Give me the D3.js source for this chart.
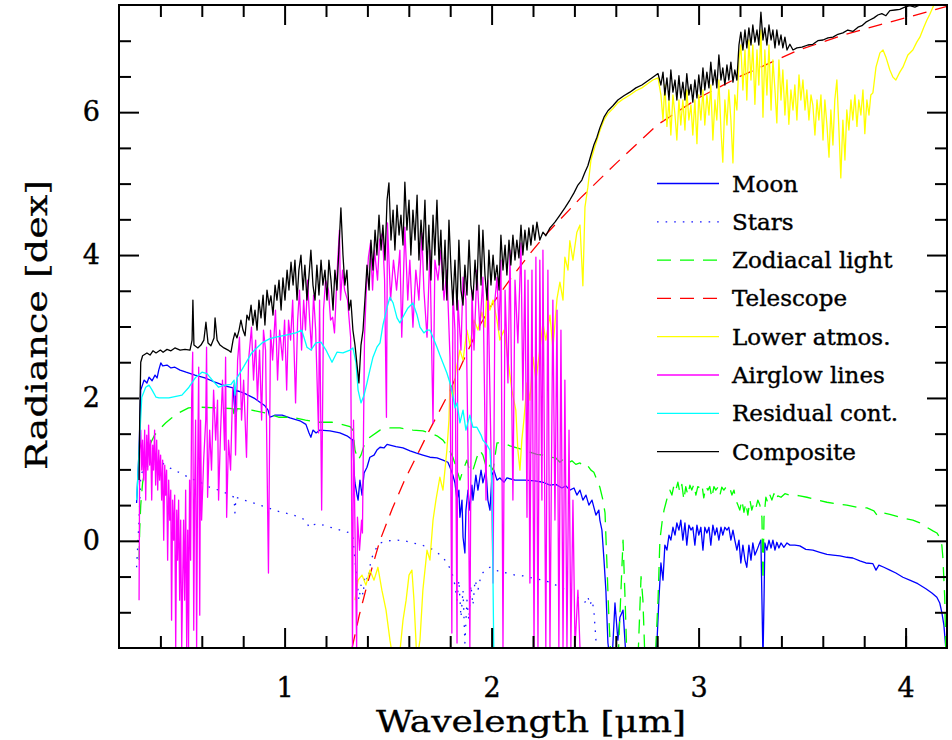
<!DOCTYPE html>
<html>
<head>
<meta charset='utf-8'>
<style>
  body { margin: 0; background: #fff; }
  .frame { fill: none; stroke: #000; stroke-width: 2px; }
  .axis path.domain { display: none; }
  .axis line { stroke: #000; stroke-width: 2px; }
  .axis text { font-family: 'DejaVu Serif'; font-size: 27px; fill: #000; stroke: #000; stroke-width: 0.4px; }
  .title { font-family: 'DejaVu Serif'; font-size: 29px; fill: #000; stroke: #000; stroke-width: 0.3px; }
  .legend text { font-family: 'DejaVu Serif'; font-size: 23px; fill: #000; stroke: #000; stroke-width: 0.4px; }
  .spec { fill: none; stroke-width: 1.3px; stroke-linejoin: round; }
</style>
</head>
<body>
<div id='chart'></div>
<script src="https://d3js.org/d3.v7.min.js"></script>
<script>
// wavelength [um], radiance [dex]
var moon = [[0.285,0.53],[0.297,1.27],[0.305,2.11],[0.321,2.25],[0.335,2.21],[0.345,2.29],[0.36,2.24],[0.374,2.32],[0.384,2.28],[0.392,2.39],[0.402,2.49],[0.411,2.45],[0.432,2.46],[0.451,2.42],[0.47,2.43],[0.495,2.39],[0.524,2.36],[0.567,2.32],[0.615,2.28],[0.664,2.22],[0.712,2.17],[0.751,2.14],[0.76,1.80],[0.765,2.11],[0.809,2.06],[0.857,1.99],[0.905,1.89],[0.92,1.83],[0.929,1.73],[0.954,1.76],[0.988,1.76],[1.026,1.72],[1.074,1.68],[1.103,1.63],[1.118,1.51],[1.127,1.45],[1.137,1.55],[1.152,1.51],[1.171,1.55],[1.219,1.54],[1.267,1.51],[1.301,1.47],[1.33,1.41],[1.335,0.99],[1.34,0.81],[1.35,0.64],[1.355,0.57],[1.364,0.85],[1.374,0.64],[1.384,0.95],[1.398,1.03],[1.412,1.17],[1.432,1.20],[1.446,1.27],[1.461,1.31],[1.48,1.30],[1.495,1.35],[1.509,1.34],[1.538,1.32],[1.572,1.30],[1.606,1.26],[1.634,1.23],[1.668,1.20],[1.702,1.17],[1.736,1.16],[1.765,1.13],[1.789,1.10],[1.799,1.03],[1.813,0.92],[1.823,0.81],[1.833,0.57],[1.842,0.71],[1.847,0.33],[1.857,0.57],[1.862,0.05],[1.871,-0.17],[1.876,0.43],[1.886,0.71],[1.895,0.43],[1.905,0.78],[1.91,0.57],[1.924,0.92],[1.934,0.71],[1.949,0.99],[1.958,0.81],[1.973,0.99],[1.982,0.57],[1.992,0.43],[2.002,0.92],[2.011,0.99],[2.026,0.85],[2.04,0.88],[2.06,0.82],[2.074,0.88],[2.113,0.85],[2.161,0.85],[2.209,0.84],[2.248,0.82],[2.282,0.78],[2.31,0.79],[2.34,0.74],[2.359,0.77],[2.378,0.71],[2.398,0.74],[2.412,0.64],[2.427,0.71],[2.441,0.57],[2.456,0.64],[2.47,0.50],[2.485,0.57],[2.504,0.36],[2.518,0.43],[2.523,0.29],[2.533,0.15],[2.543,-0.27],[2.552,-0.69],[2.562,-1.43],[2.572,-1.67],[2.582,-1.67],[2.596,-0.87],[2.61,-1.39],[2.62,-1.07],[2.635,-0.97],[2.65,-1.67],[2.795,-1.67],[2.808,-0.83],[2.818,-0.31],[2.828,-0.55],[2.837,-0.06],[2.847,-0.13],[2.857,0.08],[2.866,0.01],[2.876,0.19],[2.886,0.08],[2.895,0.25],[2.905,0.15],[2.914,0.29],[2.924,0.01],[2.934,0.25],[2.943,-0.06],[2.953,0.22],[2.963,0.15],[2.972,0.19],[2.982,-0.06],[2.992,0.22],[3.001,0.08],[3.011,0.19],[3.021,-0.13],[3.03,0.19],[3.04,0.11],[3.05,0.19],[3.059,-0.06],[3.069,0.22],[3.079,0.08],[3.088,0.18],[3.098,0.01],[3.108,0.19],[3.117,0.08],[3.127,0.19],[3.137,0.15],[3.146,0.19],[3.156,0.01],[3.166,0.15],[3.175,0.01],[3.185,-0.13],[3.195,0.01],[3.204,-0.31],[3.214,-0.06],[3.224,-0.27],[3.233,-0.37],[3.243,-0.06],[3.253,-0.27],[3.262,-0.03],[3.272,-0.20],[3.282,-0.13],[3.291,-0.06],[3.301,0.01],[3.306,-0.83],[3.311,-1.67],[3.316,-0.83],[3.32,-0.03],[3.33,-0.13],[3.34,0.01],[3.35,-0.10],[3.359,0.01],[3.369,-0.13],[3.378,-0.02],[3.388,-0.10],[3.398,-0.03],[3.412,-0.09],[3.427,-0.03],[3.441,-0.06],[3.465,-0.06],[3.489,-0.07],[3.518,-0.12],[3.552,-0.13],[3.586,-0.16],[3.62,-0.19],[3.649,-0.20],[3.683,-0.21],[3.716,-0.23],[3.745,-0.24],[3.779,-0.28],[3.808,-0.31],[3.842,-0.32],[3.857,-0.41],[3.871,-0.34],[3.895,-0.37],[3.924,-0.41],[3.953,-0.45],[3.987,-0.51],[4.02,-0.55],[4.059,-0.60],[4.098,-0.67],[4.127,-0.73],[4.151,-0.79],[4.165,-0.87],[4.175,-1.00],[4.185,-1.18],[4.194,-1.50]];

var stars = [[0.285,-0.37],[0.297,0.29],[0.305,0.92],[0.324,1.03],[0.35,1.06],[0.374,1.06],[0.403,1.10],[0.446,1.02],[0.495,0.95],[0.543,0.88],[0.599,0.81],[0.638,0.75],[0.681,0.71],[0.725,0.66],[0.756,0.61],[0.76,0.39],[0.765,0.61],[0.804,0.57],[0.841,0.54],[0.879,0.50],[0.922,0.46],[0.96,0.42],[1.004,0.39],[1.053,0.35],[1.103,0.29],[1.118,0.19],[1.132,0.22],[1.164,0.24],[1.198,0.21],[1.232,0.18],[1.27,0.15],[1.316,0.11],[1.33,0.05],[1.34,-0.27],[1.35,-0.55],[1.359,-0.83],[1.369,-0.62],[1.379,-0.76],[1.388,-0.48],[1.403,-0.55],[1.417,-0.27],[1.437,-0.13],[1.461,-0.03],[1.50,0.00],[1.543,0.01],[1.581,0.00],[1.62,-0.03],[1.663,-0.06],[1.702,-0.10],[1.736,-0.16],[1.765,-0.23],[1.789,-0.33],[1.808,-0.44],[1.823,-0.62],[1.833,-0.83],[1.842,-0.55],[1.852,-1.07],[1.862,-0.69],[1.871,-1.43],[1.881,-0.83],[1.89,-1.11],[1.9,-0.62],[1.91,-0.90],[1.92,-0.55],[1.934,-0.69],[1.949,-0.48],[1.968,-0.41],[1.992,-0.37],[2.021,-0.41],[2.045,-0.44],[2.074,-0.45],[2.113,-0.48],[2.151,-0.49],[2.195,-0.52],[2.248,-0.55],[2.291,-0.59],[2.33,-0.65],[2.369,-0.70],[2.403,-0.76],[2.432,-0.83],[2.451,-0.86],[2.465,-0.78],[2.475,-0.90],[2.485,-0.83],[2.494,-0.97],[2.504,-1.39],[2.509,-1.67]];

var zodiacal = [[0.297,-0.27],[0.30,0.15],[0.305,0.50],[0.314,0.81],[0.334,1.13],[0.353,1.37],[0.372,1.48],[0.392,1.55],[0.425,1.65],[0.454,1.72],[0.488,1.79],[0.536,1.86],[0.599,1.87],[0.681,1.86],[0.751,1.85],[0.76,1.69],[0.77,1.85],[0.841,1.83],[0.909,1.79],[0.971,1.73],[1.034,1.73],[1.101,1.69],[1.164,1.66],[1.227,1.66],[1.265,1.64],[1.316,1.60],[1.33,1.55],[1.34,1.27],[1.355,1.13],[1.369,1.20],[1.388,1.37],[1.412,1.45],[1.461,1.55],[1.509,1.58],[1.557,1.58],[1.62,1.55],[1.668,1.54],[1.702,1.51],[1.736,1.47],[1.765,1.41],[1.789,1.31],[1.813,1.17],[1.833,0.99],[1.847,0.85],[1.862,0.99],[1.881,1.13],[1.895,0.96],[1.91,0.99],[1.929,1.17],[1.943,1.27],[1.958,1.20],[1.978,0.99],[1.992,1.06],[2.007,0.99],[2.026,1.37],[2.055,1.37],[2.089,1.33],[2.122,1.30],[2.156,1.27],[2.185,1.24],[2.219,1.21],[2.248,1.20],[2.282,1.17],[2.31,1.16],[2.33,1.10],[2.35,1.15],[2.369,1.09],[2.388,1.12],[2.407,1.07],[2.427,1.09],[2.446,1.03],[2.465,1.05],[2.48,0.99],[2.494,0.96],[2.509,0.85],[2.523,0.75],[2.538,0.57],[2.548,0.39],[2.557,-0.31],[2.567,-1.11],[2.577,-1.67],[2.611,-1.67],[2.625,-0.69],[2.635,0.01],[2.645,-0.83],[2.654,-1.67],[2.707,-1.67],[2.722,-0.50],[2.731,-0.83],[2.741,-1.67],[2.79,-1.67],[2.804,-0.83],[2.813,0.01],[2.823,0.25],[2.833,0.43],[2.842,0.53],[2.852,0.64],[2.861,0.71],[2.871,0.64],[2.881,0.78],[2.89,0.71],[2.9,0.82],[2.909,0.68],[2.919,0.79],[2.929,0.57],[2.938,0.76],[2.948,0.64],[2.958,0.78],[2.967,0.71],[2.977,0.79],[2.987,0.64],[2.996,0.76],[3.006,0.74],[3.016,0.79],[3.025,0.60],[3.035,0.76],[3.045,0.71],[3.054,0.76],[3.064,0.60],[3.074,0.76],[3.083,0.71],[3.093,0.75],[3.103,0.64],[3.112,0.75],[3.122,0.71],[3.132,0.75],[3.142,0.71],[3.151,0.74],[3.161,0.64],[3.171,0.71],[3.18,0.57],[3.19,0.50],[3.199,0.43],[3.209,0.57],[3.219,0.40],[3.228,0.53],[3.238,0.36],[3.248,0.57],[3.257,0.43],[3.267,0.53],[3.277,0.46],[3.286,0.57],[3.296,0.50],[3.306,0.33],[3.311,-0.55],[3.316,0.33],[3.325,0.61],[3.335,0.53],[3.345,0.64],[3.354,0.57],[3.364,0.66],[3.374,0.57],[3.383,0.63],[3.398,0.61],[3.417,0.66],[3.441,0.64],[3.465,0.64],[3.489,0.63],[3.523,0.61],[3.562,0.58],[3.62,0.54],[3.683,0.51],[3.716,0.50],[3.765,0.47],[3.813,0.46],[3.847,0.42],[3.862,0.36],[3.876,0.40],[3.924,0.37],[3.972,0.33],[4.035,0.29],[4.069,0.25],[4.103,0.19],[4.132,0.14],[4.151,0.11],[4.165,0.05],[4.175,-0.06],[4.18,-0.23],[4.189,-0.79],[4.194,-1.50]];

var telescope = [[1.326,-1.5],[1.36,-1.05],[1.40,-0.6],[1.46,0.0],[1.52,0.45],[1.58,0.85],[1.64,1.2],[1.70,1.55],[1.79,2.05],[1.86,2.5],[1.94,3.0],[2.0,3.3],[2.1,3.7],[2.18,4.0],[2.26,4.28],[2.43,4.8],[2.6,5.28],[2.8,5.82],[3.0,6.2],[3.2,6.5],[3.475,6.86],[3.7,7.08],[3.87,7.22],[4.0,7.32],[4.1,7.4],[4.2,7.48]];

var lowerAtmos = [[1.34,-0.83],[1.355,-0.55],[1.374,-0.48],[1.393,-0.62],[1.412,-0.41],[1.432,-0.55],[1.451,-0.37],[1.47,-0.69],[1.49,-0.97],[1.509,-1.39],[1.524,-1.67],[1.553,-1.67],[1.572,-1.11],[1.587,-0.83],[1.601,-0.48],[1.615,-0.41],[1.625,-0.83],[1.639,-1.67],[1.654,-1.39],[1.668,-0.69],[1.688,-0.13],[1.702,-0.27],[1.717,0.29],[1.731,0.57],[1.75,0.89],[1.765,0.71],[1.784,1.27],[1.794,1.69],[1.799,2.21],[1.813,1.97],[1.828,2.39],[1.847,2.67],[1.862,2.53],[1.881,2.95],[1.895,2.74],[1.915,3.09],[1.934,2.95],[1.953,3.20],[1.968,2.99],[1.978,3.51],[1.992,3.23],[2.007,3.37],[2.026,3.09],[2.04,2.81],[2.06,2.95],[2.079,2.53],[2.098,2.11],[2.117,1.83],[2.127,1.27],[2.137,0.99],[2.146,1.41],[2.156,1.69],[2.171,2.21],[2.185,1.97],[2.20,2.57],[2.214,2.25],[2.233,2.67],[2.248,3.05],[2.262,2.81],[2.282,3.16],[2.296,2.69],[2.316,3.39],[2.33,3.62],[2.345,3.37],[2.354,3.97],[2.369,3.79],[2.378,4.20],[2.393,3.93],[2.412,4.32],[2.427,4.42],[2.441,3.57],[2.451,4.67],[2.465,4.95],[2.48,5.33],[2.494,5.47],[2.509,5.61],[2.523,5.74],[2.543,5.89],[2.562,5.98],[2.586,6.05],[2.61,6.13],[2.639,6.19],[2.668,6.24],[2.697,6.30],[2.726,6.34],[2.755,6.40],[2.779,6.45],[2.804,6.48],[2.818,6.24],[2.828,5.89],[2.837,6.38],[2.847,5.80],[2.857,6.17],[2.866,5.68],[2.876,6.24],[2.886,5.96],[2.895,5.61],[2.905,6.17],[2.914,5.82],[2.924,6.17],[2.934,5.75],[2.943,6.31],[2.953,5.89],[2.963,6.10],[2.972,5.68],[2.982,6.17],[2.992,5.56],[3.001,6.24],[3.011,5.89],[3.021,6.31],[3.03,5.82],[3.04,6.24],[3.05,5.96],[3.059,6.38],[3.069,5.61],[3.079,6.17],[3.088,5.89],[3.098,6.45],[3.108,5.75],[3.117,5.30],[3.127,6.17],[3.137,5.82],[3.146,6.31],[3.156,5.89],[3.166,5.29],[3.175,6.24],[3.185,6.03],[3.195,6.73],[3.204,6.94],[3.214,6.31],[3.224,6.87],[3.233,6.17],[3.243,7.01],[3.253,6.45],[3.262,6.94],[3.272,6.11],[3.282,6.87],[3.291,6.38],[3.301,7.15],[3.311,5.93],[3.32,6.87],[3.33,6.24],[3.34,6.94],[3.35,6.03],[3.359,6.73],[3.369,6.31],[3.378,5.85],[3.388,6.73],[3.398,6.17],[3.407,6.59],[3.417,5.96],[3.427,6.45],[3.436,5.83],[3.446,6.31],[3.456,6.03],[3.465,6.38],[3.475,5.89],[3.485,6.52],[3.494,6.17],[3.504,6.45],[3.514,6.03],[3.523,6.31],[3.533,5.89],[3.543,6.24],[3.552,6.10],[3.562,5.68],[3.572,6.17],[3.581,5.89],[3.591,6.24],[3.601,5.61],[3.61,6.17],[3.62,5.82],[3.63,5.37],[3.639,6.03],[3.649,5.54],[3.658,6.17],[3.668,6.45],[3.678,5.75],[3.687,5.08],[3.697,5.89],[3.707,5.33],[3.716,6.03],[3.726,5.75],[3.736,6.17],[3.745,5.89],[3.755,6.24],[3.765,5.80],[3.774,6.17],[3.784,5.96],[3.794,6.31],[3.803,5.70],[3.813,6.17],[3.823,5.96],[3.832,6.24],[3.842,6.27],[3.857,6.63],[3.876,6.83],[3.891,6.87],[3.905,6.77],[3.924,6.59],[3.939,6.49],[3.953,6.45],[3.972,6.56],[3.987,6.63],[4.011,6.80],[4.035,6.87],[4.054,6.98],[4.069,7.05],[4.088,7.19],[4.103,7.29],[4.117,7.37],[4.132,7.47],[4.146,7.55]];

var airglow = [[0.297,-0.83],[0.30,1.27],[0.305,1.55],[0.31,0.99],[0.314,1.41],[0.319,0.85],[0.324,1.55],[0.329,0.57],[0.334,1.48],[0.339,0.99],[0.343,1.62],[0.348,1.06],[0.353,1.41],[0.358,0.57],[0.363,1.34],[0.367,0.99],[0.372,1.55],[0.377,0.78],[0.382,1.41],[0.387,0.71],[0.392,1.27],[0.396,0.85],[0.401,1.20],[0.406,0.57],[0.411,1.13],[0.416,0.01],[0.421,1.06],[0.425,0.64],[0.43,0.99],[0.435,-0.27],[0.44,0.85],[0.445,0.29],[0.45,0.71],[0.454,-1.11],[0.459,0.57],[0.464,0.01],[0.469,0.64],[0.474,-1.5],[0.479,0.43],[0.483,-0.27],[0.488,0.57],[0.493,-0.83],[0.498,0.29],[0.503,-1.5],[0.512,0.29],[0.517,-0.83],[0.522,0.71],[0.527,-1.5],[0.532,0.15],[0.536,-1.5],[0.541,0.85],[0.546,-0.27],[0.551,1.97],[0.556,2.64],[0.561,-1.25],[0.565,0.57],[0.57,1.69],[0.575,-1.5],[0.58,0.99],[0.585,2.43],[0.59,-1.04],[0.594,1.69],[0.599,0.29],[0.609,1.13],[0.619,1.69],[0.623,2.71],[0.628,0.61],[0.638,1.55],[0.647,0.99],[0.657,2.11],[0.667,1.41],[0.676,1.97],[0.681,0.57],[0.691,1.55],[0.70,2.25],[0.71,1.27],[0.715,2.57],[0.72,0.33],[0.729,1.41],[0.739,0.99],[0.749,2.11],[0.758,2.21],[0.763,1.20],[0.773,2.53],[0.782,2.85],[0.792,1.69],[0.802,2.25],[0.816,1.17],[0.826,2.53],[0.84,2.99],[0.85,2.25],[0.86,2.81],[0.869,1.97],[0.879,2.67],[0.889,1.69],[0.898,2.95],[0.908,2.67],[0.922,-0.45],[0.932,2.95],[0.942,2.53],[0.956,3.23],[0.966,2.25],[0.976,2.95],[0.99,2.53],[1.0,3.09],[1.01,2.11],[1.019,3.09],[1.029,2.81],[1.039,3.37],[1.053,1.93],[1.063,3.09],[1.072,3.51],[1.082,2.67],[1.092,3.37],[1.101,2.95],[1.111,3.65],[1.121,3.09],[1.13,2.67],[1.14,3.44],[1.15,2.95],[1.164,1.51],[1.169,3.37],[1.179,0.43],[1.188,3.23],[1.198,3.65],[1.212,3.51],[1.222,3.09],[1.232,3.13],[1.241,2.91],[1.256,3.89],[1.265,4.35],[1.27,3.37],[1.28,3.79],[1.29,3.51],[1.304,3.37],[1.319,2.85],[1.328,-1.49],[1.333,1.69],[1.338,0.57],[1.348,-1.49],[1.352,0.33],[1.362,-0.13],[1.372,0.29],[1.376,0.11],[1.386,2.85],[1.396,3.61],[1.405,3.97],[1.415,4.17],[1.425,3.51],[1.434,4.07],[1.449,3.65],[1.459,4.21],[1.473,4.31],[1.483,3.65],[1.492,1.73],[1.497,4.45],[1.512,3.37],[1.526,3.93],[1.541,3.51],[1.557,4.07],[1.566,2.85],[1.581,4.39],[1.595,3.37],[1.605,3.93],[1.62,2.99],[1.634,3.79],[1.649,3.37],[1.663,4.31],[1.673,3.51],[1.688,2.85],[1.702,4.07],[1.717,1.65],[1.726,3.93],[1.741,3.65],[1.755,4.07],[1.77,3.37],[1.784,3.79],[1.799,2.57],[1.808,-1.29],[1.813,3.51],[1.823,2.95],[1.833,-1.43],[1.837,3.37],[1.852,2.67],[1.862,3.69],[1.876,3.37],[1.886,1.27],[1.895,-1.49],[1.905,3.51],[1.915,2.67],[1.929,3.79],[1.943,2.95],[1.958,3.69],[1.973,0.57],[1.982,3.65],[1.997,1.27],[2.007,-0.59],[2.016,3.37],[2.026,3.69],[2.036,2.95],[2.045,3.93],[2.055,-1.49],[2.065,3.51],[2.079,2.21],[2.089,4.07],[2.103,0.57],[2.113,3.65],[2.127,2.77],[2.142,4.17],[2.151,1.97],[2.161,3.79],[2.171,0.33],[2.176,3.65],[2.185,-0.59],[2.195,3.79],[2.205,-1.49],[2.214,3.97],[2.224,-1.49],[2.233,3.93],[2.243,0.57],[2.248,4.07],[2.262,-1.5],[2.272,3.79],[2.282,-1.5],[2.296,3.37],[2.306,0.29],[2.316,3.23],[2.325,-1.5],[2.335,2.95],[2.345,-1.5],[2.354,2.25],[2.364,-1.5],[2.374,1.55],[2.383,-1.5],[2.393,0.57],[2.403,-1.5],[2.417,-0.69],[2.427,-1.5]];

var residual = [[0.285,0.57],[0.297,1.27],[0.31,2.01],[0.329,2.15],[0.345,2.18],[0.36,2.11],[0.379,2.01],[0.393,2.00],[0.441,2.00],[0.504,2.04],[0.538,2.15],[0.571,2.29],[0.601,2.36],[0.625,2.34],[0.654,2.24],[0.681,2.15],[0.712,2.18],[0.741,2.19],[0.756,2.25],[0.76,2.04],[0.77,2.28],[0.799,2.42],[0.841,2.63],[0.891,2.77],[0.929,2.83],[0.958,2.85],[1.006,2.88],[1.054,2.91],[1.083,2.95],[1.108,2.71],[1.127,2.67],[1.151,2.77],[1.176,2.78],[1.2,2.67],[1.229,2.50],[1.253,2.64],[1.282,2.63],[1.316,2.67],[1.33,2.70],[1.345,2.49],[1.355,2.11],[1.369,1.93],[1.384,2.04],[1.398,2.21],[1.412,2.39],[1.427,2.57],[1.446,2.71],[1.461,2.77],[1.475,3.02],[1.495,3.27],[1.509,3.41],[1.524,3.33],[1.543,3.12],[1.557,3.05],[1.577,3.16],[1.596,3.26],[1.62,3.33],[1.64,3.16],[1.654,2.99],[1.673,2.91],[1.688,2.95],[1.702,2.95],[1.722,2.81],[1.736,2.71],[1.75,2.60],[1.765,2.49],[1.784,2.35],[1.799,2.21],[1.813,2.04],[1.823,1.86],[1.833,1.93],[1.847,1.65],[1.862,1.83],[1.876,1.55],[1.895,1.76],[1.91,1.59],[1.929,1.59],[1.949,1.48],[1.958,1.41],[1.978,1.34],[1.992,1.27],[2.002,0.81],[2.007,-0.59],[2.011,-1.67]];

var composite = [[0.297,0.85],[0.30,1.69],[0.305,2.5],[0.314,2.59],[0.335,2.63],[0.35,2.60],[0.364,2.66],[0.379,2.63],[0.40,2.67],[0.413,2.64],[0.432,2.68],[0.451,2.66],[0.47,2.70],[0.495,2.67],[0.519,2.68],[0.543,2.67],[0.553,2.81],[0.557,3.37],[0.562,2.74],[0.581,2.70],[0.596,2.74],[0.61,2.81],[0.62,3.06],[0.63,2.77],[0.644,2.73],[0.659,2.84],[0.664,3.12],[0.674,2.81],[0.688,2.74],[0.707,2.70],[0.727,2.67],[0.741,2.64],[0.751,2.81],[0.76,2.91],[0.77,2.84],[0.78,2.95],[0.789,3.09],[0.799,2.95],[0.809,2.87],[0.818,3.16],[0.828,3.09],[0.838,3.30],[0.847,3.02],[0.857,3.23],[0.867,2.95],[0.876,3.37],[0.886,3.12],[0.896,3.44],[0.905,3.02],[0.915,3.51],[0.925,3.30],[0.934,3.43],[0.944,3.16],[0.954,3.58],[0.963,3.37],[0.973,3.65],[0.983,3.23],[0.992,3.68],[1.002,3.37],[1.012,3.79],[1.021,3.51],[1.031,3.90],[1.041,3.58],[1.05,3.93],[1.06,3.37],[1.069,3.79],[1.079,4.00],[1.089,3.51],[1.098,3.86],[1.108,3.37],[1.118,3.72],[1.127,4.07],[1.137,3.58],[1.147,3.37],[1.156,3.86],[1.166,3.44],[1.176,3.93],[1.185,3.58],[1.195,3.79],[1.205,3.37],[1.214,3.93],[1.224,3.65],[1.234,3.23],[1.243,3.79],[1.253,3.51],[1.262,4.07],[1.272,4.66],[1.282,4.00],[1.291,3.58],[1.301,3.79],[1.311,3.23],[1.32,3.37],[1.33,2.95],[1.34,2.74],[1.35,2.46],[1.359,2.21],[1.369,2.74],[1.379,2.95],[1.388,3.37],[1.398,3.86],[1.408,3.51],[1.417,4.21],[1.427,3.79],[1.437,4.35],[1.446,4.00],[1.456,4.56],[1.466,4.07],[1.475,4.42],[1.485,3.93],[1.495,4.77],[1.504,5.01],[1.514,4.21],[1.524,4.63],[1.533,4.07],[1.543,4.70],[1.553,4.28],[1.562,4.56],[1.572,4.14],[1.581,5.02],[1.591,4.35],[1.601,4.77],[1.61,4.00],[1.62,4.63],[1.63,4.21],[1.64,4.84],[1.649,3.93],[1.659,4.49],[1.668,4.07],[1.678,4.77],[1.688,3.79],[1.697,4.42],[1.707,3.65],[1.717,4.56],[1.726,4.00],[1.736,4.77],[1.746,3.86],[1.755,4.35],[1.765,3.51],[1.775,4.21],[1.784,3.37],[1.794,4.49],[1.804,3.79],[1.813,3.30],[1.823,3.93],[1.833,3.23],[1.842,4.21],[1.852,3.51],[1.862,3.30],[1.871,3.86],[1.881,3.44],[1.891,4.21],[1.90,3.58],[1.91,3.37],[1.92,3.93],[1.929,3.51],[1.939,4.42],[1.949,3.58],[1.958,4.35],[1.968,3.72],[1.978,3.37],[1.987,4.07],[1.997,3.58],[2.007,4.00],[2.016,3.65],[2.026,3.86],[2.036,3.51],[2.045,4.28],[2.055,3.79],[2.065,4.14],[2.074,3.72],[2.084,4.21],[2.093,3.86],[2.103,4.28],[2.113,3.93],[2.122,4.21],[2.132,3.96],[2.142,4.42],[2.151,4.00],[2.161,4.35],[2.171,4.07],[2.18,4.38],[2.19,4.14],[2.20,4.42],[2.209,4.21],[2.219,4.46],[2.233,4.21],[2.248,4.32],[2.262,4.27],[2.282,4.38],[2.306,4.46],[2.33,4.56],[2.354,4.66],[2.378,4.77],[2.398,4.87],[2.417,4.98],[2.436,5.05],[2.451,5.16],[2.465,5.25],[2.48,5.40],[2.494,5.54],[2.509,5.65],[2.523,5.78],[2.543,5.93],[2.562,6.02],[2.586,6.09],[2.61,6.17],[2.639,6.23],[2.668,6.28],[2.697,6.34],[2.726,6.38],[2.755,6.44],[2.779,6.49],[2.804,6.54],[2.818,6.38],[2.828,6.56],[2.837,6.24],[2.847,6.48],[2.857,6.17],[2.866,6.59],[2.876,6.28],[2.886,6.45],[2.895,6.17],[2.905,6.51],[2.914,6.20],[2.924,6.42],[2.934,6.17],[2.943,6.54],[2.953,6.24],[2.963,6.39],[2.972,6.14],[2.982,6.45],[2.992,6.20],[3.001,6.52],[3.011,6.24],[3.021,6.62],[3.03,6.31],[3.04,6.56],[3.05,6.34],[3.059,6.70],[3.069,6.38],[3.079,6.59],[3.088,6.34],[3.098,6.80],[3.108,6.45],[3.117,6.62],[3.127,6.38],[3.137,6.66],[3.146,6.45],[3.156,6.70],[3.166,6.42],[3.175,6.59],[3.185,6.45],[3.195,6.94],[3.204,7.12],[3.214,6.87],[3.224,7.15],[3.233,6.90],[3.243,7.18],[3.253,6.94],[3.262,7.22],[3.272,6.98],[3.282,7.15],[3.291,6.94],[3.301,7.40],[3.311,7.01],[3.32,7.18],[3.33,6.94],[3.34,7.22],[3.35,7.01],[3.359,7.15],[3.369,6.90],[3.378,7.15],[3.388,6.94],[3.398,7.08],[3.407,6.90],[3.417,7.05],[3.427,6.87],[3.441,6.95],[3.456,6.87],[3.475,6.90],[3.499,6.91],[3.528,6.94],[3.552,6.95],[3.576,7.00],[3.601,7.01],[3.625,7.04],[3.649,7.05],[3.673,7.09],[3.697,7.11],[3.721,7.15],[3.745,7.13],[3.77,7.19],[3.789,7.21],[3.808,7.26],[3.827,7.29],[3.847,7.32],[3.866,7.36],[3.885,7.38],[3.905,7.35],[3.924,7.42],[3.948,7.43],[3.972,7.44],[3.996,7.47],[4.02,7.49],[4.045,7.47],[4.069,7.50],[4.1,7.53]];

var seriesNames = ['Moon', 'Stars', 'Zodiacal light', 'Telescope', 'Lower atmos.', 'Airglow lines', 'Residual cont.', 'Composite'];
var seriesData = [moon, stars, zodiacal, telescope, lowerAtmos, airglow, residual, composite];
var seriesColors = ['#0000ff', '#1a1aff', '#00ff00', '#ff0000', '#ffff00', '#ff00ff', '#00ffff', '#000000'];
var seriesDash = [null, '1.6,7', '14,9', '14,9', null, null, null, null];

var xMajorTicks = [1, 2, 3, 4];
var xMinorTicks = [0.4, 0.6, 0.8, 1.2, 1.4, 1.6, 1.8, 2.2, 2.4, 2.6, 2.8, 3.2, 3.4, 3.6, 3.8, 4.0];
var yMajorTicks = [0, 2, 4, 6];
var yMinorTicks = [-1, -0.5, 0.5, 1, 1.5, 2.5, 3, 3.5, 4.5, 5, 5.5, 6.5, 7];

var width = 952, height = 740;
var plotL = 119, plotR = 947, plotT = 5, plotB = 648;

var svg = d3.select('#chart').append('svg')
    .attr('width', width)
    .attr('height', height);

svg.append('rect').attr('width', width).attr('height', height).attr('fill', '#fff');

var x = d3.scaleLinear().domain([0.2, 4.2]).range([plotL, plotR]);
var y = d3.scaleLinear().domain([-1.5, 7.5]).range([plotB, plotT]);

svg.append('clipPath').attr('id', 'plotclip')
    .append('rect')
    .attr('x', plotL).attr('y', plotT)
    .attr('width', plotR - plotL).attr('height', plotB - plotT);

var line = d3.line()
    .x(function(d) { return x(d[0]); })
    .y(function(d) { return y(d[1]); });

var plot = svg.append('g').attr('clip-path', 'url(#plotclip)');

seriesData.forEach(function(data, i) {
    plot.append('path')
        .datum(data)
        .attr('class', 'spec')
        .attr('d', line)
        .attr('stroke', seriesColors[i])
        .attr('stroke-dasharray', seriesDash[i]);
});

// axes, ticks pointing inwards on all four sides
function addAxis(axis, tx, ty) {
    return svg.append('g')
        .attr('class', 'axis')
        .attr('transform', 'translate(' + tx + ',' + ty + ')')
        .call(axis);
}

addAxis(d3.axisBottom(x).tickValues(xMajorTicks).tickSize(-20).tickPadding(30).tickFormat(d3.format('d')), 0, plotB);
addAxis(d3.axisBottom(x).tickValues(xMinorTicks).tickSize(-12).tickFormat(''), 0, plotB);
addAxis(d3.axisTop(x).tickValues(xMajorTicks).tickSize(-20).tickFormat(''), 0, plotT);
addAxis(d3.axisTop(x).tickValues(xMinorTicks).tickSize(-12).tickFormat(''), 0, plotT);
addAxis(d3.axisLeft(y).tickValues(yMajorTicks).tickSize(-20).tickPadding(19).tickFormat(d3.format('d')), plotL, 0);
addAxis(d3.axisLeft(y).tickValues(yMinorTicks).tickSize(-12).tickFormat(''), plotL, 0);
addAxis(d3.axisRight(y).tickValues(yMajorTicks).tickSize(-20).tickFormat(''), plotR, 0);
addAxis(d3.axisRight(y).tickValues(yMinorTicks).tickSize(-12).tickFormat(''), plotR, 0);

svg.append('rect')
    .attr('class', 'frame')
    .attr('x', plotL).attr('y', plotT)
    .attr('width', plotR - plotL).attr('height', plotB - plotT);

// axis titles
svg.append('text')
    .attr('class', 'title')
    .attr('x', (plotL + plotR) / 2 - 2)
    .attr('y', 732)
    .attr('text-anchor', 'middle')
    .attr('textLength', 310)
    .attr('lengthAdjust', 'spacingAndGlyphs')
    .text('Wavelength [\u03bcm]');

svg.append('text')
    .attr('class', 'title')
    .attr('transform', 'translate(47,325) rotate(-90)')
    .attr('text-anchor', 'middle')
    .attr('textLength', 290)
    .attr('lengthAdjust', 'spacingAndGlyphs')
    .text('Radiance [dex]');

// legend
var legend = svg.append('g').attr('class', 'legend');
seriesNames.forEach(function(name, i) {
    var ly = 183.5 + i * 38.3;
    legend.append('line')
        .attr('x1', 657).attr('x2', 719)
        .attr('y1', ly).attr('y2', ly)
        .attr('stroke', seriesColors[i])
        .attr('stroke-width', 1.3)
        .attr('stroke-dasharray', seriesDash[i]);
    legend.append('text')
        .attr('x', 732)
        .attr('y', ly + 8)
        .text(name);
});
</script>
</body>
</html>
